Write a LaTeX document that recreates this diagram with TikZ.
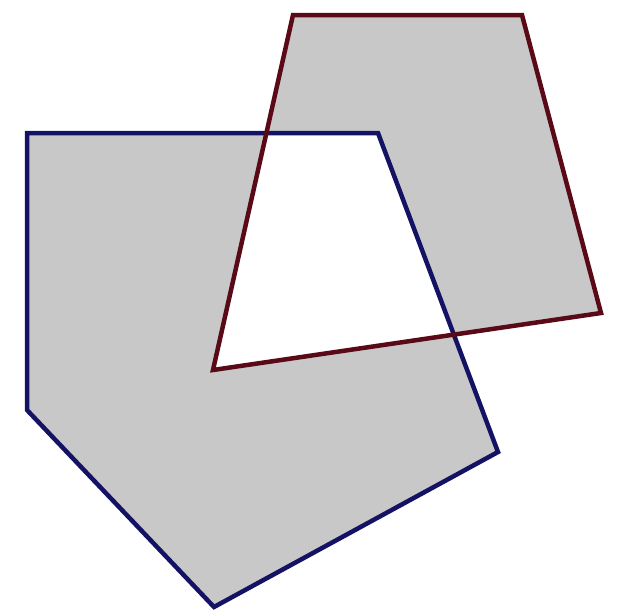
\documentclass[tikz,border=0pt]{standalone}
\begin{document}
\begin{tikzpicture}[x=1pt,y=-1pt,
  outline/.style={line width=4.5pt,line join=miter},
  blueline/.style={outline,draw={rgb,255:red,20;green,18;blue,100}},
  redline/.style={outline,draw={rgb,255:red,90;green,10;blue,22}}]
\useasboundingbox (0,0) rectangle (619,616);
\coordinate (b1) at (27,133);
\coordinate (b2) at (378,133);
\coordinate (b3) at (498,452);
\coordinate (b4) at (214,607);
\coordinate (b5) at (27,410);
\coordinate (r1) at (293,15);
\coordinate (r2) at (522,15);
\coordinate (r3) at (601,313);
\coordinate (r4) at (213,370);
\fill[even odd rule,fill={rgb,255:red,200;green,200;blue,200}]
  (b1) -- (b2) -- (b3) -- (b4) -- (b5) -- cycle
  (r1) -- (r2) -- (r3) -- (r4) -- cycle;
\draw[blueline] (b1) -- (b2) -- (b3) -- (b4) -- (b5) -- cycle;
\draw[redline] (r1) -- (r2) -- (r3) -- (r4) -- cycle;
\end{tikzpicture}
\end{document}
